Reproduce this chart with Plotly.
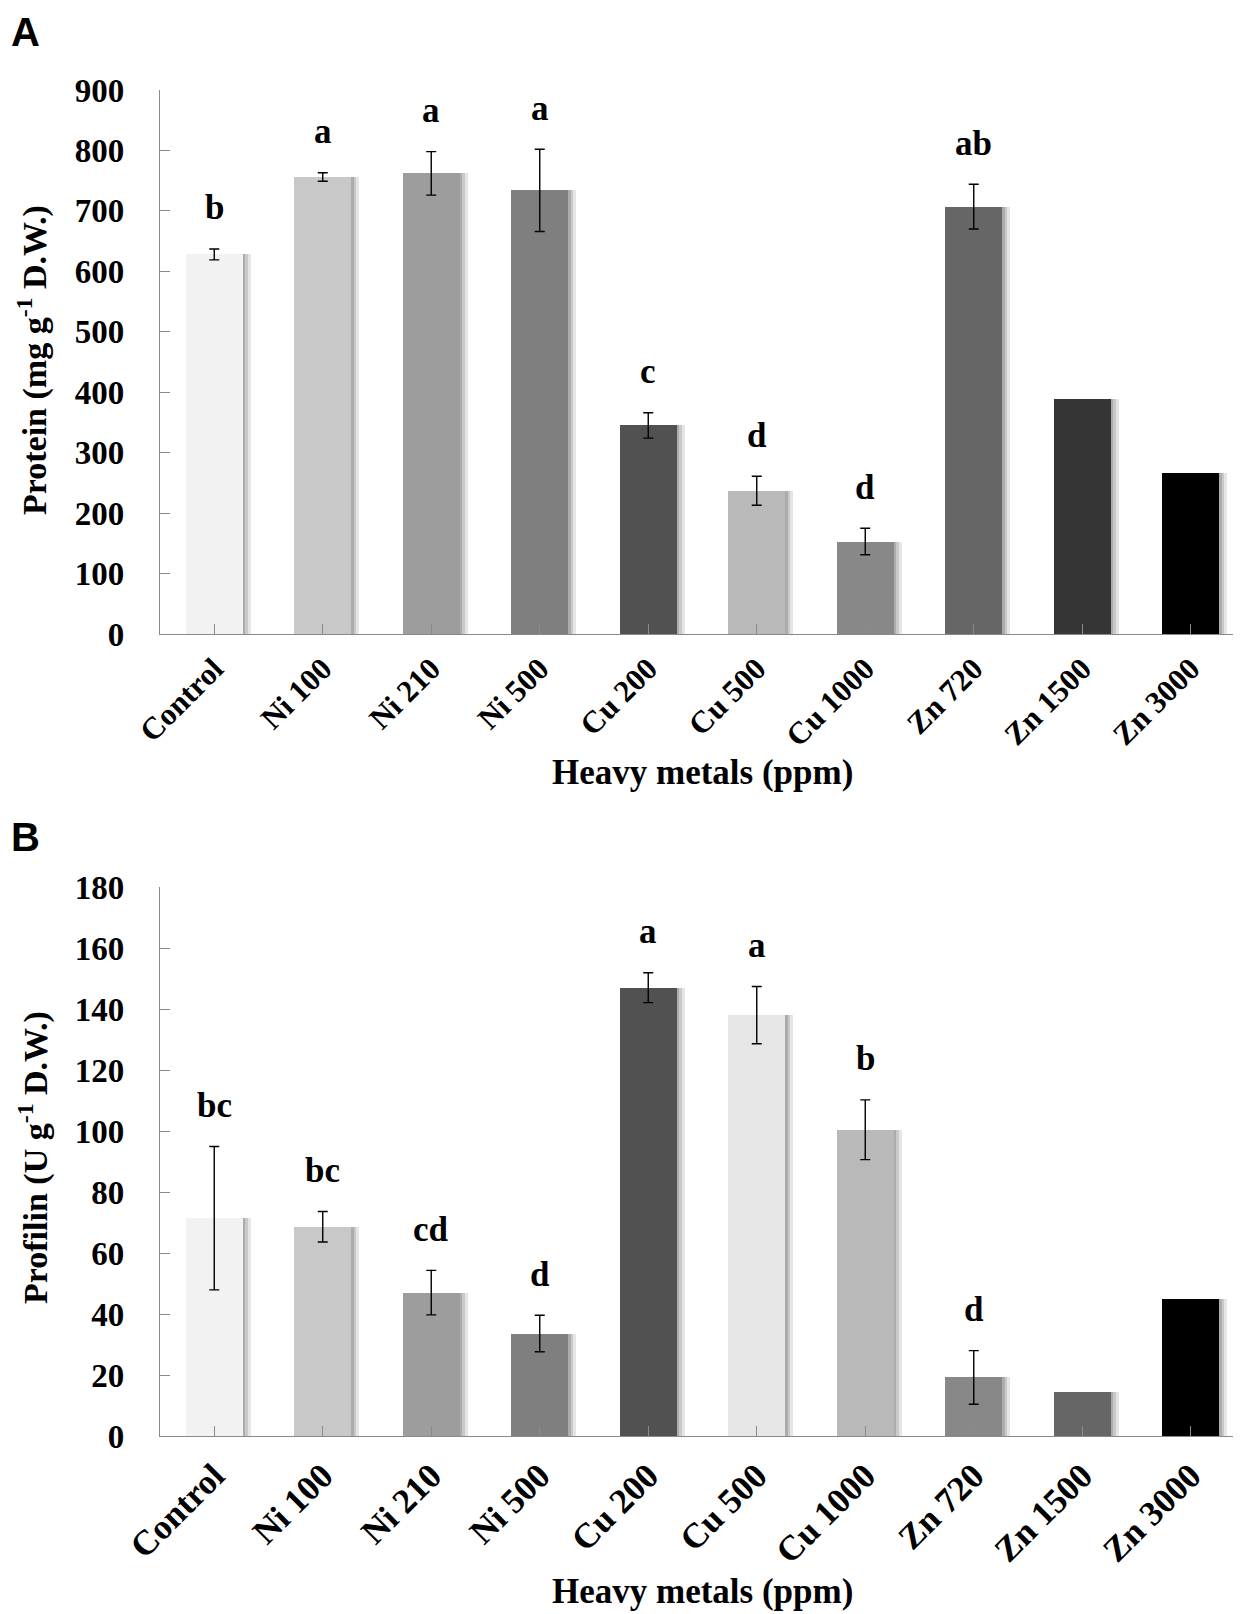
import plotly.graph_objects as go

# Treatments (x categories)
treatments = ["Control", "Ni 100", "Ni 210", "Ni 500", "Cu 200",
              "Cu 500", "Cu 1000", "Zn 720", "Zn 1500", "Zn 3000"]

# Panel A - protein content
protein = [628, 756, 762, 734, 345, 237, 153, 707, 388, 267]
protein_err = [9, 7, 36, 68, 21, 24, 22, 37, None, None]
protein_letters = ["b", "a", "a", "a", "c", "d", "d", "ab", "", ""]
protein_colors = ["#f2f2f2", "#c8c8c8", "#9d9d9d", "#7f7f7f", "#515151",
                  "#b9b9b9", "#888888", "#666666", "#353535", "#000000"]

# Panel B - profilin content
profilin = [71.4, 68.6, 47.0, 33.6, 147.0, 138.0, 100.4, 19.2, 14.3, 45.0]
profilin_err = [23.5, 5.0, 7.3, 6.0, 4.9, 9.4, 9.8, 8.8, None, None]
profilin_letters = ["bc", "bc", "cd", "d", "a", "a", "b", "d", "", ""]
profilin_colors = ["#f2f2f2", "#c8c8c8", "#9d9d9d", "#7f7f7f", "#515151",
                   "#e6e6e6", "#b9b9b9", "#888888", "#666666", "#000000"]

SERIF = "Liberation Serif"
BAR_W = 0.525
W, H = 1241, 1614
ML, MR, MT, MB = 152, 4, 82, 186
px_per_cat = (W - ML - MR) / 10.0

fig = go.Figure()


def add_panel(values, errors, colors, xaxis, yaxis):
    xs = list(range(len(values)))
    # soft drop shadow on the right side of each bar
    for shift, alpha in [(8, 0.10), (5, 0.12), (2.5, 0.14)]:
        fig.add_trace(go.Bar(
            x=xs, y=values, width=BAR_W,
            offset=-BAR_W / 2 + shift / px_per_cat,
            marker=dict(color="rgba(0,0,0,%s)" % alpha, line=dict(width=0)),
            xaxis=xaxis, yaxis=yaxis, hoverinfo="skip", showlegend=False
        ))
    fig.add_trace(go.Bar(
        x=xs, y=values, width=BAR_W,
        marker=dict(color=colors, line=dict(width=0)),
        xaxis=xaxis, yaxis=yaxis, showlegend=False
    ))
    # error bars only where a value exists
    ex = [x for x, e in zip(xs, errors) if e is not None]
    ey = [v for v, e in zip(values, errors) if e is not None]
    ee = [e for e in errors if e is not None]
    fig.add_trace(go.Scatter(
        x=ex, y=ey, mode="markers", marker=dict(size=1, opacity=0),
        error_y=dict(type="data", array=ee, color="black",
                     thickness=1.4, width=5),
        xaxis=xaxis, yaxis=yaxis, hoverinfo="skip", showlegend=False
    ))


add_panel(protein, protein_err, protein_colors, "x", "y")
add_panel(profilin, profilin_err, profilin_colors, "x2", "y2")

annotations = []


def add_letters(values, errors, letters, xref, yref):
    for i, (v, e, t) in enumerate(zip(values, errors, letters)):
        if not t:
            continue
        annotations.append(dict(
            x=i, y=v + (e or 0), xref=xref, yref=yref, text=t,
            showarrow=False, yanchor="middle", yshift=41,
            font=dict(family=SERIF, size=35, color="black", weight="bold")
        ))


add_letters(protein, protein_err, protein_letters, "x", "y")
add_letters(profilin, profilin_err, profilin_letters, "x2", "y2")

plot_h = H - MT - MB
plot_w = W - ML - MR


def py(ypx):
    return (H - MB - ypx) / plot_h


def px(xpx):
    return (xpx - ML) / plot_w


title_font = dict(family=SERIF, size=34, color="black", weight="bold")
axis_title_font = dict(family=SERIF, size=35, color="black", weight="bold")
panel_font = dict(family="Liberation Sans", size=40, color="black", weight="bold")
annotations += [
    dict(text="A", x=px(1), y=py(0), xref="paper", yref="paper",
         xanchor="left", yanchor="top", showarrow=False, font=panel_font),
    dict(text="B", x=px(1), y=py(805), xref="paper", yref="paper",
         xanchor="left", yanchor="top", showarrow=False, font=panel_font),
    dict(text="Heavy metals (ppm)", x=0.5, y=py(764), xref="paper", yref="paper",
         xanchor="center", yanchor="middle", showarrow=False, font=axis_title_font),
    dict(text="Heavy metals (ppm)", x=0.5, y=py(1583), xref="paper", yref="paper",
         xanchor="center", yanchor="middle", showarrow=False, font=axis_title_font),
    dict(text="Protein (mg g<sup>-1</sup> D.W.)", x=px(25), y=py(352),
         xref="paper", yref="paper", textangle=-90, xanchor="center",
         yanchor="middle", showarrow=False, font=title_font),
    dict(text="Profilin (U g<sup>-1</sup> D.W.)", x=px(25), y=py(1150),
         xref="paper", yref="paper", textangle=-90, xanchor="center",
         yanchor="middle", showarrow=False, font=title_font),
]

axis_gray = "#8a8a8a"
xcommon = dict(
    tickmode="array", tickvals=list(range(10)), ticktext=treatments,
    range=[-0.5, 9.5], tickangle=-45, showgrid=False, zeroline=False,
    showline=True, linecolor=axis_gray, linewidth=1.3,
    ticks="inside", tickson="boundaries", ticklen=10, tickcolor=axis_gray,
)
ycommon = dict(
    showgrid=False, zeroline=False, showline=True, linecolor=axis_gray,
    linewidth=1.3, ticks="inside", ticklen=10, tickcolor=axis_gray,
    ticklabelstandoff=28,
    tickfont=dict(family=SERIF, size=33, color="black", weight="bold"),
)

fig.update_layout(
    width=W, height=H,
    margin=dict(l=ML, r=MR, t=MT, b=MB),
    paper_bgcolor="white", plot_bgcolor="white",
    barmode="overlay", bargap=0,
    xaxis=dict(xcommon, anchor="y", domain=[0, 1], ticklabelstandoff=3,
               tickfont=dict(family=SERIF, size=31, color="black", weight="bold")),
    yaxis=dict(ycommon, anchor="x", domain=[py(626), 1], range=[0, 900],
               tickvals=list(range(0, 901, 100))),
    xaxis2=dict(xcommon, anchor="y2", domain=[0, 1], ticklabelstandoff=4,
                tickfont=dict(family=SERIF, size=35, color="black", weight="bold")),
    yaxis2=dict(ycommon, anchor="x2", domain=[0, py(879)], range=[0, 180],
                tickvals=list(range(0, 181, 20))),
    annotations=annotations,
)

fig.write_html("out.html")
